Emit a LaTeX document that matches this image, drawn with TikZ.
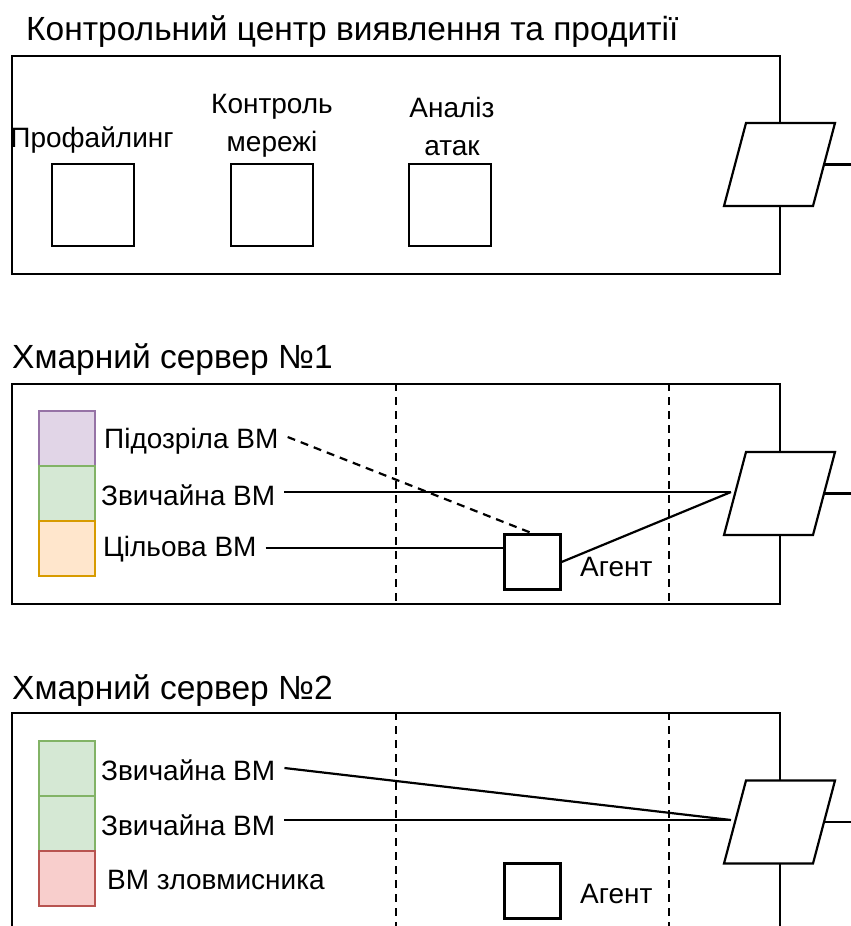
\documentclass[tikz,border=0pt]{standalone}
\usepackage{fontspec}
\setmainfont{Liberation Sans}
\begin{document}
\begin{tikzpicture}[x=1pt,y=-1pt,
  frame/.style={draw, line width=2.2pt, inner sep=0pt, anchor=north west},
  small/.style={draw, line width=2.2pt, inner sep=0pt, minimum width=82pt, minimum height=82pt},
  agentbox/.style={draw, line width=2.2pt, inner sep=0pt, minimum width=56pt, minimum height=55pt},
  vm/.style={draw, line width=1.6pt, inner sep=0pt, minimum width=56pt, minimum height=55pt, anchor=north west},
  ttl/.style={font=\fontsize{33.5}{38}\selectfont, anchor=base west, inner sep=0pt},
  lbl/.style={font=\fontsize{28}{32}\selectfont, inner sep=0pt, inner xsep=9pt},
  conn/.style={line width=2.2pt},
  sep/.style={line width=2pt, dash pattern=on 8pt off 6pt},
  gw/.style={draw, line width=2.2pt, fill=white}
]
\useasboundingbox (0,0) rectangle (851,926);
\clip (0,0) rectangle (851,926);

\newcommand\gwshape[2]{%
  \draw[gw, shift={#2}] (-33.5,-41.5) -- (55.5,-41.5) -- (33.5,41.5) -- (-55.5,41.5) -- cycle;
  \path[shift={#2}] (-44.5,0) coordinate (#1-w) (44.5,0) coordinate (#1-e) (71.5,0) coordinate (#1-out);
  \draw[conn] (#1-e) -- (#1-out);
}

% ---------- Control centre ----------
\node[ttl] (t1) at (26,40) {Контрольний центр виявлення та продитії};
\node[frame, minimum width=768pt, minimum height=218pt] (cc) at (11,55) {};
\node[small] (b1) at (93,205) {};
\node[small] (b2) at (272,205) {};
\node[small] (b3) at (450,205) {};
\node[lbl, inner xsep=0pt] (l1) at (92,140) {Профайлинг};
\node[lbl, inner xsep=0pt, align=center, font=\fontsize{28}{38}\selectfont] (l2) at (272,126) {Контроль\\мережі};
\node[lbl, inner xsep=0pt, align=center, font=\fontsize{28}{38}\selectfont] (l3) at (452,126) {Аналіз\\атак};
\gwshape{p1}{(779.5,164.5)}

% ---------- Server 1 ----------
\node[ttl] (t2) at (12,368) {Хмарний сервер №1};
\node[frame, minimum width=768pt, minimum height=220pt] (s1) at (11,383) {};
\draw[sep] (396,383) -- (396,603);
\draw[sep] (669,383) -- (669,603);
\node[vm, draw={rgb,255:red,150;green,115;blue,166}, fill={rgb,255:red,225;green,213;blue,231}] (v11) at (38,410) {};
\node[vm, draw={rgb,255:red,130;green,179;blue,102}, fill={rgb,255:red,213;green,232;blue,212}] (v12) at (38,465) {};
\node[vm, draw={rgb,255:red,215;green,155;blue,0}, fill={rgb,255:red,255;green,230;blue,204}] (v13) at (38,520) {};
\node[lbl, anchor=west] (m11) at (95,441) {Підозріла ВМ};
\node[lbl, anchor=west] (m12) at (92,495) {Звичайна ВМ};
\node[lbl, anchor=west] (m13) at (94,549) {Цільова ВМ};
\node[agentbox] (a1) at (532.5,562) {};
\node[lbl, anchor=west, inner xsep=0pt] (al1) at (580,567) {Агент};
\coordinate (p2c) at (779.5,493.5);
\coordinate (j2) at (731,492);
\draw[conn, dash pattern=on 8pt off 6pt] ([yshift=4pt]m11.east) -- (a1.north);
\draw[conn] ([yshift=1pt]m13.east) -- ([yshift=1pt]m13.east -| a1.west);
\draw[conn] ([yshift=3pt]m12.east) -- (j2);
\draw[conn] (a1.east) -- (j2);
\gwshape{p2}{(p2c)}

% ---------- Server 2 ----------
\node[ttl] (t3) at (12,699) {Хмарний сервер №2};
\node[frame, minimum width=768pt, minimum height=240pt] (s2) at (11,712) {};
\draw[sep] (396,712) -- (396,940);
\draw[sep] (669,712) -- (669,940);
\node[vm, draw={rgb,255:red,130;green,179;blue,102}, fill={rgb,255:red,213;green,232;blue,212}] (v21) at (38,740) {};
\node[vm, draw={rgb,255:red,130;green,179;blue,102}, fill={rgb,255:red,213;green,232;blue,212}] (v22) at (38,795) {};
\node[vm, draw={rgb,255:red,184;green,84;blue,80}, fill={rgb,255:red,248;green,206;blue,204}] (v23) at (38,850) {};
\node[lbl, anchor=west] (m21) at (92,770) {Звичайна ВМ};
\node[lbl, anchor=west] (m22) at (92,825) {Звичайна ВМ};
\node[lbl, anchor=west] (m23) at (98,880) {ВМ зловмисника};
\node[agentbox] (a2) at (532.5,891) {};
\node[lbl, anchor=west, inner xsep=0pt] (al2) at (580,894) {Агент};
\coordinate (p3c) at (779.5,822);
\coordinate (j3) at (731,820);
\draw[conn] ([yshift=2pt]m21.east) -- (j3);
\draw[conn] ([yshift=5pt]m22.east) -- (j3);
\gwshape{p3}{(p3c)}
\end{tikzpicture}
\end{document}
